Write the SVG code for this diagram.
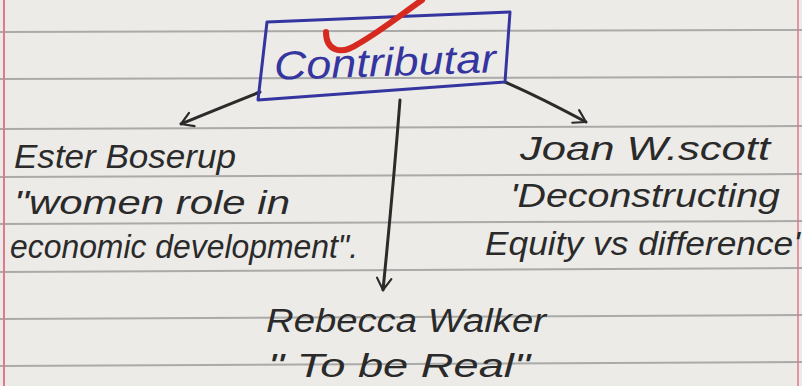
<svg xmlns="http://www.w3.org/2000/svg" width="802" height="386" viewBox="0 0 802 386">
<defs>
<style>
.rule{stroke:#8f8f8f;stroke-width:2;opacity:0.7}
.ink{font-family:"Liberation Sans","DejaVu Sans",sans-serif;font-style:italic;fill:#2a2a2a;font-size:33px}
.con{fill:none;stroke:#2b2b2b;stroke-width:3;stroke-linecap:round;stroke-linejoin:round}
</style>
<marker id="ah" viewBox="0 0 20 20" refX="16" refY="10" markerWidth="18" markerHeight="18" orient="auto" markerUnits="userSpaceOnUse">
<path d="M3,2 L16,10 L3,18" fill="none" stroke="#2b2b2b" stroke-width="2.4" stroke-linecap="round" stroke-linejoin="round"/>
</marker>
</defs>
<rect width="802" height="386" fill="#ecebe7"/>
<g id="paper">
<line class="rule" x1="0" y1="32" x2="802" y2="30"/>
<line class="rule" x1="0" y1="79" x2="802" y2="77"/>
<line class="rule" x1="0" y1="129" x2="802" y2="126"/>
<line class="rule" x1="0" y1="177" x2="802" y2="174"/>
<line class="rule" x1="0" y1="224" x2="802" y2="221"/>
<line class="rule" x1="0" y1="272" x2="802" y2="268"/>
<line class="rule" x1="0" y1="319" x2="802" y2="315"/>
<line class="rule" x1="0" y1="366" x2="802" y2="362"/>
<line x1="4" y1="0" x2="4" y2="386" stroke="#e07a8a" stroke-width="2"/>
<line x1="798" y1="0" x2="798" y2="386" stroke="#e07a8a" stroke-width="1.5"/>
</g>
<g id="connectors">
<path class="con" d="M260,92 C230,104 205,114 181,124" marker-end="url(#ah)"/>
<path class="con" d="M505,82 C535,95 560,108 586,122" marker-end="url(#ah)"/>
<path class="con" d="M400,100 C395,165 389,230 383,290" marker-end="url(#ah)"/>
</g>
<g id="contributor">
<path d="M267,22 L510,12 L505,82 L258,100 Z" fill="none" stroke="#3535a0" stroke-width="3" stroke-linejoin="round"/>
<text x="274" y="76" font-family="Liberation Sans,DejaVu Sans,sans-serif" font-style="italic" font-size="40" fill="#3535a0" textLength="222" lengthAdjust="spacingAndGlyphs" transform="rotate(-2 385 65)">Contributar</text>
<path d="M326,32 C326,50 340,56 358,44 C382,30 402,14 422,0" fill="none" stroke="#d62a20" stroke-width="6" stroke-linecap="round"/>
</g>
<g id="ester">
<text class="ink" x="14" y="168" textLength="222" lengthAdjust="spacingAndGlyphs">Ester Boserup</text>
<text class="ink" x="14" y="214" textLength="276" lengthAdjust="spacingAndGlyphs">"women role in</text>
<text class="ink" x="10" y="258" textLength="348" lengthAdjust="spacingAndGlyphs">economic development".</text>
</g>
<g id="joan">
<text class="ink" x="520" y="160" textLength="250" lengthAdjust="spacingAndGlyphs">Joan W.scott</text>
<text class="ink" x="510" y="207" textLength="270" lengthAdjust="spacingAndGlyphs">'Deconstructing</text>
<text class="ink" x="485" y="255" textLength="315" lengthAdjust="spacingAndGlyphs">Equity vs difference'</text>
</g>
<g id="rebecca">
<text class="ink" x="266" y="332" textLength="280" lengthAdjust="spacingAndGlyphs">Rebecca Walker</text>
<text class="ink" x="268" y="377" textLength="262" lengthAdjust="spacingAndGlyphs">" To be Real"</text>
</g>
</svg>
